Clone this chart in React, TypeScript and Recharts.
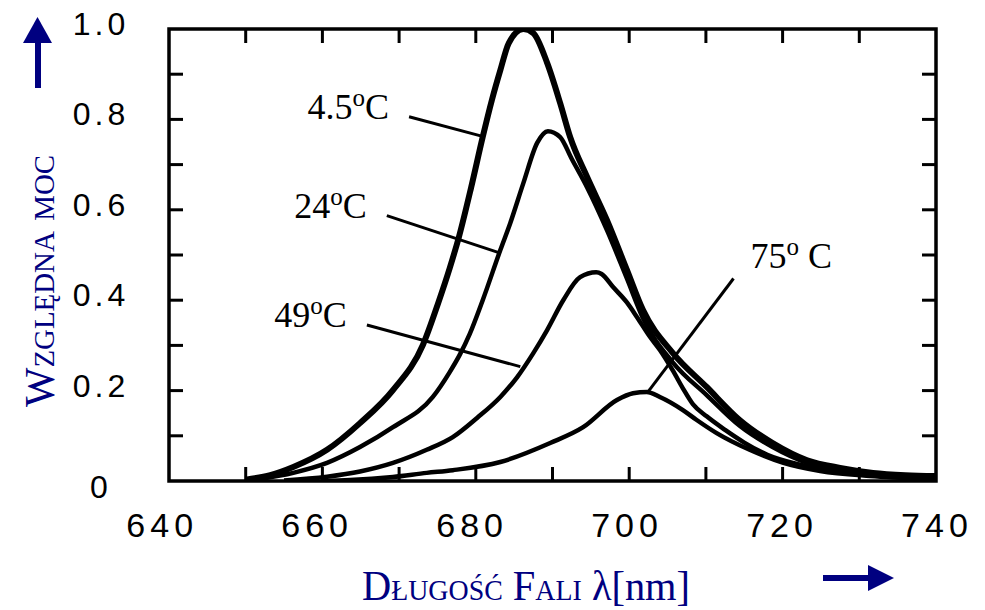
import React from 'react';
import {
  LineChart,
  Line,
  XAxis,
  YAxis,
  ReferenceArea,
  ReferenceLine,
  ReferenceDot,
} from 'recharts';

// ── spectra: wavelength [nm] and relative power, one pair per case temperature ──

const nm45 = [650, 653.2, 656.2, 660.6, 664.9, 669.2, 673.1, 675.1, 676.6, 677.8, 679.4, 680.9, 682.1, 683.2, 684.3, 686.2, 687.5, 689.3, 691.0, 692.3, 694.5, 697.1, 699.7, 701.8, 705.7, 710.1, 714.4, 718.7, 723.2, 727.5, 731.8, 736, 740];
const pw45 = [0.003, 0.013, 0.031, 0.069, 0.128, 0.201, 0.301, 0.394, 0.471, 0.54, 0.65, 0.761, 0.843, 0.909, 0.969, 1.0, 0.991, 0.925, 0.836, 0.761, 0.673, 0.577, 0.467, 0.378, 0.283, 0.208, 0.135, 0.084, 0.046, 0.029, 0.018, 0.013, 0.011];

const nm24 = [651, 656.2, 660.6, 664.9, 669.2, 674.4, 676.6, 677.9, 679.2, 680.9, 683.2, 684.5, 686.2, 688.0, 689.4, 691.0, 692.5, 694.5, 697.1, 699.7, 701.8, 705.7, 710.1, 714.4, 718.7, 723.2, 727.5, 731.8, 736, 740];
const pw24 = [0.002, 0.018, 0.04, 0.075, 0.119, 0.186, 0.241, 0.279, 0.325, 0.4, 0.511, 0.571, 0.659, 0.748, 0.774, 0.761, 0.713, 0.65, 0.555, 0.448, 0.36, 0.262, 0.19, 0.122, 0.075, 0.04, 0.024, 0.015, 0.011, 0.009];

const nm49 = [655, 660.6, 664.9, 669.2, 673.6, 677.0, 680.2, 683.2, 685.4, 687.5, 689.3, 691.4, 693.6, 695.7, 696.4, 697.9, 699.7, 701.0, 702.7, 704.0, 705.7, 707.0, 708.3, 710.1, 712.5, 715, 718.0, 722.3, 728.8, 734, 740];
const pw49 = [0.001, 0.0095, 0.021, 0.04, 0.069, 0.097, 0.14, 0.186, 0.23, 0.283, 0.334, 0.4, 0.451, 0.462, 0.458, 0.429, 0.395, 0.363, 0.319, 0.29, 0.244, 0.205, 0.17, 0.143, 0.113, 0.085, 0.058, 0.036, 0.018, 0.01, 0.006];

const nm75 = [660, 663.6, 669.2, 673.6, 677.0, 683.2, 689.7, 694.0, 698.4, 700.5, 702.3, 704.0, 707.0, 708.8, 711.4, 715.7, 720.1, 724.9, 731.4, 740];
const pw75 = [0, 0.002, 0.009, 0.018, 0.024, 0.042, 0.084, 0.119, 0.179, 0.194, 0.197, 0.186, 0.157, 0.135, 0.106, 0.069, 0.04, 0.022, 0.011, 0.004];

// axis ticks
const xTickMarks = [650, 660, 670, 680, 690, 700, 710, 720, 730];
const xTickLabels = [640, 660, 680, 700, 720, 740];
const yTickMarks = [0.1, 0.2, 0.3, 0.4, 0.5, 0.6, 0.7, 0.8, 0.9];
const yTickLabels = [0, 0.2, 0.4, 0.6, 0.8, 1];

// curve tags: temperature text and leader line (label end -> point on curve)
const tags = [
  { temp: '4.5', gap: '', from: [671.3, 0.806], to: [681.0, 0.762], side: 'left' },
  { temp: '24', gap: '', from: [668.4, 0.587], to: [683.2, 0.504], side: 'left' },
  { temp: '49', gap: '', from: [665.8, 0.345], to: [685.8, 0.253], side: 'left' },
  { temp: '75', gap: ' ', from: [713.6, 0.448], to: [702.3, 0.194], side: 'right' },
];

const toRows = (nm: number[], pw: number[]) => nm.map((x, i) => ({ nm: x, p: pw[i] }));

const series = [
  { key: 't45', rows: toRows(nm45, pw45), width: 6 },
  { key: 't24', rows: toRows(nm24, pw24), width: 4.5 },
  { key: 't49', rows: toRows(nm49, pw49), width: 4.5 },
  { key: 't75', rows: toRows(nm75, pw75), width: 4.5 },
];

const INK = '#000';
const NAVY = '#000080';
const SANS = '"Liberation Sans", Arial, sans-serif';
const SERIF = '"Liberation Serif", "Times New Roman", serif';

// tick-mark-only axes still need a tick renderer, otherwise the lines are dropped too
const NoLabel = () => null;

function XLabelTick({ x, y, payload }: any) {
  return (
    <text x={x + 2.5} y={y + 56} textAnchor="middle" fontFamily={SANS} fontSize={34} letterSpacing={5} fill={INK}>
      {payload.value}
    </text>
  );
}

function YLabelTick({ x, y, payload }: any) {
  const v = payload.value as number;
  const text = v === 0 ? '0' : v.toFixed(1);
  return (
    <text x={x - 68} y={y + (v === 0 ? 17 : 6)} textAnchor="middle" fontFamily={SANS} fontSize={32} letterSpacing={4} fill={INK}>
      {text}
    </text>
  );
}

function TempTag({ cx, cy, temp, gap, side }: any) {
  const left = side === 'left';
  return (
    <text
      x={left ? cx - 20 : cx + 17}
      y={left ? cy + 2 : cy - 11}
      textAnchor={left ? 'end' : 'start'}
      fontFamily={SERIF}
      fontSize={36}
      fill={INK}
    >
      {temp}
      <tspan dy={-13} fontSize={25}>o</tspan>
      <tspan dy={13}>{gap}C</tspan>
    </text>
  );
}

const markLine = { stroke: INK, strokeWidth: 3 };

export default function App() {
  return (
    <div style={{ position: 'relative', width: 977, height: 602 }}>
      <LineChart width={977} height={602} data={series[0].rows}
        margin={{ top: 21, right: 49, bottom: 69, left: 61 }}>
        <XAxis xAxisId="nm" type="number" dataKey="nm" domain={[640, 740]} allowDataOverflow
          orientation="bottom" mirror ticks={xTickMarks} interval={0} tick={NoLabel} tickSize={14}
          axisLine={false} stroke={INK} tickLine={markLine} />
        <XAxis xAxisId="top" type="number" dataKey="nm" domain={[640, 740]} allowDataOverflow
          orientation="top" mirror ticks={xTickMarks} interval={0} tick={NoLabel} tickSize={14}
          axisLine={false} stroke={INK} tickLine={markLine} />
        <XAxis xAxisId="lbl" type="number" dataKey="nm" domain={[641.2, 740.2]} allowDataOverflow
          orientation="bottom" height={60} ticks={xTickLabels} interval={0}
          tickSize={0} tickMargin={0} axisLine={false} tickLine={false} tick={<XLabelTick />} />
        <YAxis yAxisId="val" type="number" dataKey="p" domain={[0, 1]} allowDataOverflow width={100}
          ticks={yTickLabels} interval={0} tickSize={0} tickMargin={0}
          axisLine={false} tickLine={false} tick={<YLabelTick />} />
        <YAxis yAxisId="tl" type="number" dataKey="p" domain={[0, 1]} allowDataOverflow orientation="left" mirror
          ticks={yTickMarks} interval={0} tick={NoLabel} tickSize={14} axisLine={false}
          stroke={INK} tickLine={markLine} />
        <YAxis yAxisId="tr" type="number" dataKey="p" domain={[0, 1]} allowDataOverflow orientation="right" mirror
          ticks={yTickMarks} interval={0} tick={NoLabel} tickSize={14} axisLine={false}
          stroke={INK} tickLine={markLine} />

        <ReferenceArea xAxisId="nm" yAxisId="val" x1={640} x2={740} y1={0} y2={1}
          fill="none" fillOpacity={0} stroke={INK} strokeWidth={3.5} />

        {series.map((s) => (
          <Line key={s.key} xAxisId="nm" yAxisId="val" data={s.rows} dataKey="p"
            type="monotone" stroke={INK} strokeWidth={s.width} dot={false}
            activeDot={false} isAnimationActive={false} />
        ))}

        {tags.map((t) => (
          <ReferenceLine key={`l${t.temp}`} xAxisId="nm" yAxisId="val"
            segment={[{ x: t.from[0], y: t.from[1] }, { x: t.to[0], y: t.to[1] }]}
            stroke={INK} strokeWidth={3} />
        ))}
        {tags.map((t) => (
          <ReferenceDot key={`d${t.temp}`} xAxisId="nm" yAxisId="val" x={t.from[0]} y={t.from[1]} r={0}
            shape={(p: any) => <TempTag cx={p.cx} cy={p.cy} temp={t.temp} gap={t.gap} side={t.side} />} />
        ))}
      </LineChart>

      {/* axis titles and direction arrows */}
      <svg width={977} height={602} style={{ position: 'absolute', left: 0, top: 0, pointerEvents: 'none' }}>
        <rect x={27} y={34} width={6} height={46} fill={NAVY} />
        <polygon points="15,35 44,35 29.5,9" fill={NAVY} />
        <text transform="translate(46,273) rotate(-90)" textAnchor="middle" fontFamily={SERIF}
          fontSize={42} fill={NAVY} textLength={252} lengthAdjust="spacingAndGlyphs"
          style={{ fontVariant: 'small-caps' }}>
          Względna moc
        </text>

        <text x={518} y={592} textAnchor="middle" fontFamily={SERIF} fontSize={42} fill={NAVY}
          textLength={328} lengthAdjust="spacingAndGlyphs">
          <tspan style={{ fontVariant: 'small-caps' }}>Długość Fali </tspan>
          <tspan>λ[nm]</tspan>
        </text>
        <rect x={815} y={567} width={46} height={6} fill={NAVY} />
        <polygon points="860,557 860,583 886,570" fill={NAVY} />
      </svg>
    </div>
  );
}
